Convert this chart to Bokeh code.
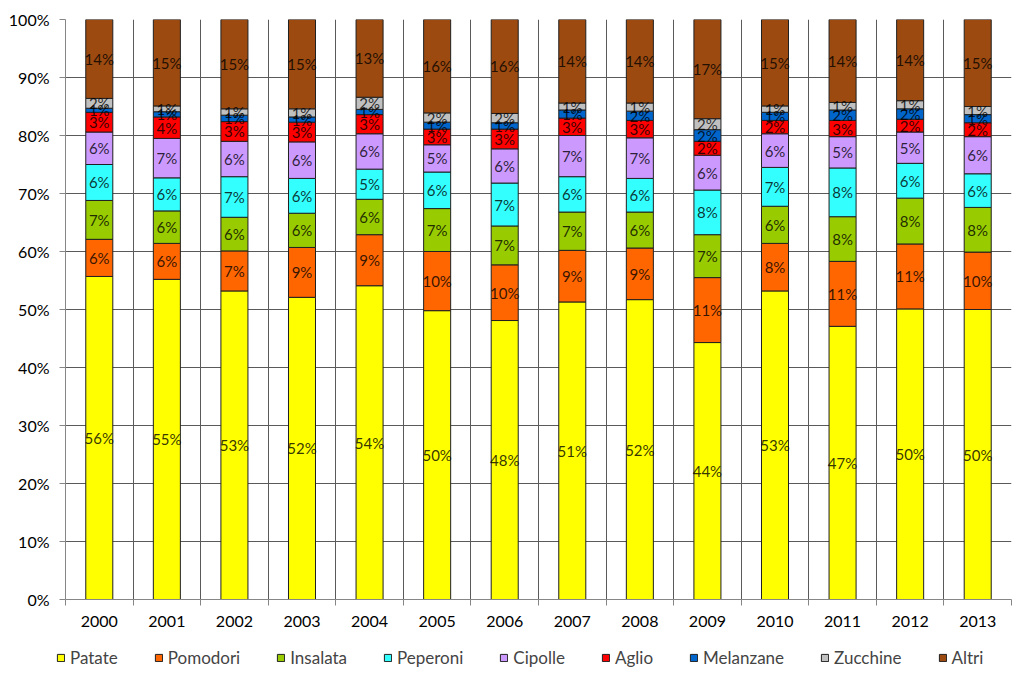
import numpy as np
from bokeh.plotting import figure
from bokeh.layouts import column, row
from bokeh.models import (ColumnDataSource, FixedTicker, Legend, LegendItem,
                          PrintfTickFormatter, Range1d)
from bokeh.core.properties import value
from bokeh.embed import file_html
from bokeh.resources import INLINE

years = ["2000", "2001", "2002", "2003", "2004", "2005", "2006",
         "2007", "2008", "2009", "2010", "2011", "2012", "2013"]

patate    = [55.7, 55.2, 53.2, 52.1, 54.1, 49.8, 48.1, 51.3, 51.7, 44.3, 53.2, 47.1, 50.1, 50.0]
pomodori  = [6.4, 6.2, 6.9, 8.6, 8.8, 10.2, 9.6, 8.9, 8.9, 11.2, 8.2, 11.2, 11.2, 9.9]
insalata  = [6.7, 5.6, 5.8, 5.9, 6.1, 7.4, 6.7, 6.6, 6.2, 7.4, 6.4, 7.7, 7.9, 7.7]
peperoni  = [6.2, 5.7, 7.0, 6.0, 5.2, 6.3, 7.4, 6.1, 5.8, 7.7, 6.7, 8.4, 6.0, 5.8]
cipolle   = [5.6, 6.8, 6.1, 6.3, 6.1, 4.7, 5.9, 7.1, 7.0, 6.0, 5.8, 5.4, 5.4, 6.4]
aglio     = [3.4, 3.7, 3.4, 3.4, 3.3, 2.7, 3.4, 3.0, 3.0, 2.4, 2.3, 2.8, 2.2, 2.4]
melanzane = [0.7, 0.9, 1.1, 0.9, 0.9, 1.2, 1.1, 1.4, 1.6, 2.0, 1.4, 1.8, 1.8, 1.4]
zucchine  = [1.7, 1.0, 1.1, 1.4, 2.1, 1.6, 1.6, 1.2, 1.4, 1.9, 1.1, 1.3, 1.4, 1.4]
altri     = [13.6, 14.9, 15.4, 15.4, 13.4, 16.1, 16.2, 14.4, 14.4, 17.1, 14.9, 14.3, 14.0, 15.0]

series_names = ["Patate", "Pomodori", "Insalata", "Peperoni", "Cipolle",
                "Aglio", "Melanzane", "Zucchine", "Altri"]
series_values = [patate, pomodori, insalata, peperoni, cipolle,
                 aglio, melanzane, zucchine, altri]
colors = ["#FFFF00", "#FF6600", "#99CC00", "#33FFFF", "#CC99FF",
          "#FF0000", "#0066CC", "#C0C0C0", "#9C4A10"]
y_ticks = list(range(0, 101, 10))

FONT = "Lato"
GRID = "#5a5a5a"
OUTLINE = "#202020"

n = len(years)
xs = np.arange(n) + 0.5
data = {"x": xs}
for name, vals in zip(series_names, series_values):
    data[name] = vals
source = ColumnDataSource(data)

p = figure(width=1023, height=640,
           min_border_left=65, min_border_right=12, min_border_top=19,
           min_border_bottom=41,
           x_range=Range1d(0, n), y_range=Range1d(0, 100),
           output_backend="svg", toolbar_location=None,
           background_fill_color="white", border_fill_color="white")
p.outline_line_color = None

renderers = p.vbar_stack(series_names, x="x", width=0.4, color=colors,
                         line_color=OUTLINE, line_width=1, source=source)

# data labels
bottom = np.zeros(n)
for name, vals in zip(series_names, series_values):
    v = np.array(vals, dtype=float)
    mid = bottom + v / 2.0
    bottom = bottom + v
    lab = ColumnDataSource(dict(x=xs, y=mid,
                                t=["%d%%" % int(round(a)) for a in v]))
    p.text(x="x", y="y", text="t", source=lab, text_align="center",
           text_baseline="middle", text_font=value(FONT),
           text_font_size="15px", text_color="black", text_alpha=0.8)

# axes
p.xaxis.ticker = FixedTicker(ticks=list(xs), minor_ticks=list(range(n + 1)))
p.xaxis.major_label_overrides = {float(x): y for x, y in zip(xs, years)}
p.xaxis.major_tick_line_color = None
p.xaxis.minor_tick_line_color = "#868686"
p.xaxis.minor_tick_out = 6
p.xaxis.minor_tick_in = 0
p.xaxis.axis_line_color = "#868686"
p.xaxis.major_label_text_font = FONT
p.xaxis.major_label_text_font_size = "16px"
p.xaxis.major_label_text_color = "black"
p.xaxis.major_label_standoff = 10

p.yaxis.ticker = FixedTicker(ticks=y_ticks)
p.yaxis.formatter = PrintfTickFormatter(format="%d%%")
p.yaxis.major_tick_out = 6
p.yaxis.major_tick_in = 0
p.yaxis.minor_tick_line_color = None
p.yaxis.major_tick_line_color = "#868686"
p.yaxis.axis_line_color = "#868686"
p.yaxis.major_label_text_font = FONT
p.yaxis.major_label_text_font_size = "16px"
p.yaxis.major_label_text_color = "black"
p.yaxis.major_label_standoff = 10

p.xgrid.ticker = FixedTicker(ticks=list(range(n + 1)))
p.ygrid.ticker = FixedTicker(ticks=y_ticks)
p.xgrid.grid_line_color = GRID
p.ygrid.grid_line_color = GRID

# legend strip below the chart (its bar renderers are hidden)
pl = figure(width=1023, height=55, min_border_left=0, min_border_right=0,
            min_border_top=0, min_border_bottom=0,
            x_range=Range1d(0, n), y_range=Range1d(0, 100),
            x_axis_type=None, y_axis_type=None,
            output_backend="svg", toolbar_location=None,
            background_fill_color="white", border_fill_color="white")
pl.outline_line_color = None
pl.grid.visible = False
leg_renderers = pl.vbar_stack(series_names, x="x", width=0.4, color=colors,
                              line_color=OUTLINE, line_width=1, source=source)
for r in leg_renderers:
    r.visible = False

legend = Legend(items=[LegendItem(label=nm, renderers=[r])
                       for nm, r in zip(series_names, leg_renderers)],
                orientation="horizontal", location=(56, 27),
                spacing=36, glyph_width=9, glyph_height=9, label_standoff=5,
                label_text_font=FONT, label_text_font_size="17px",
                border_line_color=None, background_fill_alpha=0,
                padding=5, margin=0)
pl.add_layout(legend, "center")

layout = column(p, row(pl), spacing=0)
html = file_html(layout, INLINE)
open("out.html", "w").write(html)
